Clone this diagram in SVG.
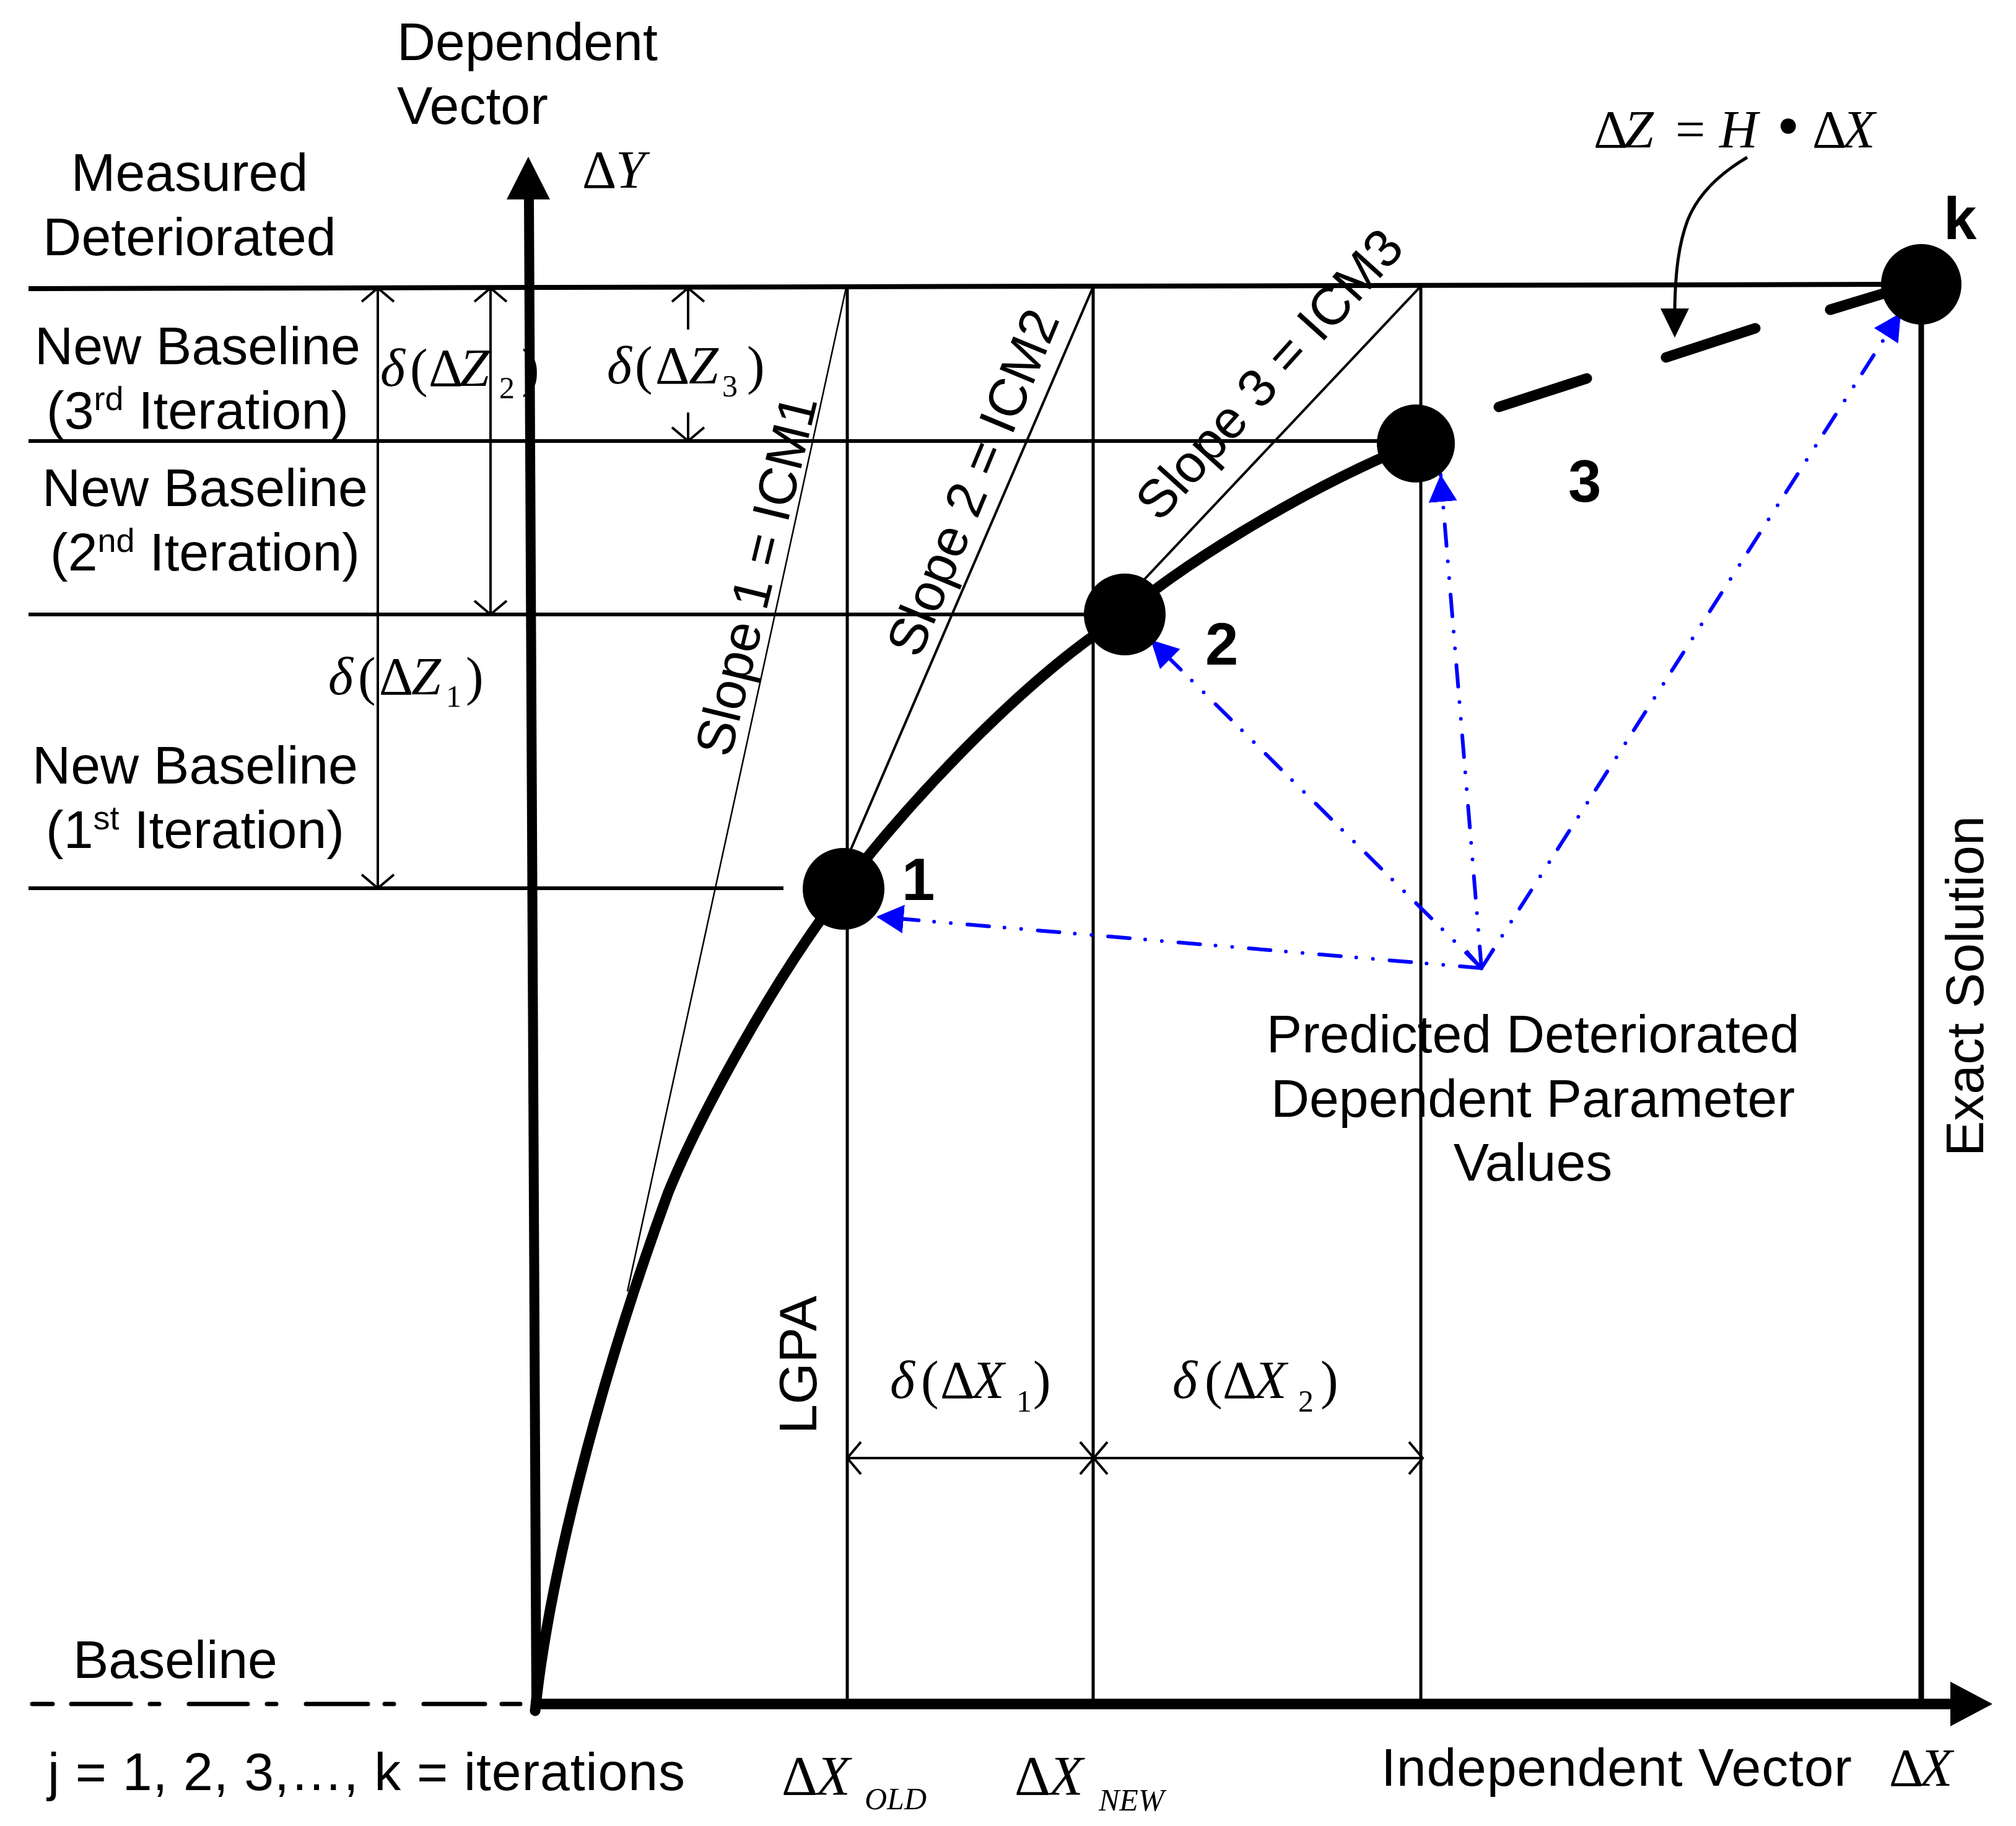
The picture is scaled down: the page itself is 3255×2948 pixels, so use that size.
<svg xmlns="http://www.w3.org/2000/svg" width="3255" height="2948" viewBox="0 0 3255 2948">
<defs>
<style>
.t{font-family:"Liberation Sans",Arial,sans-serif;font-size:86px;fill:#000}
.b{font-family:"Liberation Sans",Arial,sans-serif;font-size:96px;font-weight:bold;fill:#000}
.m{font-family:"Liberation Serif","Times New Roman",serif;font-size:86px;fill:#000}
.i{font-style:italic}
.s{font-size:50px}
.sup{font-size:54px}
.ln{stroke:#000;fill:none}
.blue{stroke:#0000ff;stroke-width:6;fill:none;stroke-dasharray:35 27 0 27 0 25;stroke-linecap:round}
.dim{stroke:#000;stroke-width:4;fill:none}
</style>
<marker id="bh" markerUnits="userSpaceOnUse" markerWidth="50" markerHeight="50" refX="44" refY="23" orient="auto"><path d="M0,0 L44,23 L0,46 Z" fill="#0000ff"/></marker>
<marker id="bo" markerUnits="userSpaceOnUse" markerWidth="40" markerHeight="50" refX="32" refY="24" orient="auto-start-reverse"><path d="M2,2 L32,24 L2,46" fill="none" stroke="#0000ff" stroke-width="5"/></marker>
</defs>
<rect width="3255" height="2948" fill="#fff"/>

<g id="grid">
<path class="ln" stroke-width="8" d="M46,466 L3102,459"/>
<path class="ln" stroke-width="6" d="M46,712 L2286,712"/>
<path class="ln" stroke-width="6" d="M46,992 L1816,992"/>
<path class="ln" stroke-width="6" d="M46,1434 L1265,1434"/>
<path class="ln" stroke-width="5" d="M1368,465 L1368,2751 M1765,463 L1765,2751 M2294,462 L2294,2751"/>
<path class="ln" stroke-width="9" d="M3102,459 L3102,2751"/>
<path class="ln" stroke-width="2.5" d="M1366,465 L1013,2085"/>
<path class="ln" stroke-width="4" d="M1765,463 L1370,1380 M2294,462 L1848,935"/>
</g>

<g id="baseline-dashes" stroke="#000" stroke-width="7" stroke-linecap="round">
<path d="M52,2751 H85 M115,2751 H211 M242,2751 H257 M305,2751 H400 M431,2751 H446 M494,2751 H594 M621,2751 H636 M684,2751 H783 M810,2751 H840"/>
</g>

<g id="axes">
<path class="ln" stroke-width="16" d="M866,2755 L854,318"/>
<path d="M818,322 L853,253 L888,322 Z" fill="#000"/>
<path class="ln" stroke-width="17" d="M866,2751 L3152,2751"/>
<path d="M3149,2715 L3217,2751 L3149,2787 Z" fill="#000"/>
</g>

<g id="dimensions">
<path class="dim" d="M610,465 V1434 M584,487 L610,465 L636,487 M584,1412 L610,1434 L636,1412"/>
<path class="dim" d="M792,465 V992 M766,487 L792,465 L818,487 M766,970 L792,992 L818,970"/>
<path class="dim" d="M1111,465 V532 M1085,487 L1111,465 L1137,487 M1111,666 V712 M1085,690 L1111,712 L1137,690"/>
<path class="dim" d="M1368,2354 H2297 M1390,2328 L1368,2354 L1390,2380 M1744,2328 L1766,2354 L1744,2380 M1788,2328 L1766,2354 L1788,2380 M2275,2328 L2297,2354 L2275,2380"/>
</g>

<g id="connectors">
<path id="curve" d="M864,2762 C885,2560 960,2250 1079,1925 C1130,1800 1250,1580 1362,1435 C1420,1350 1640,1100 1816,993 C1880,930 2100,790 2286,716" fill="none" stroke="#000" stroke-width="17" stroke-linecap="round" stroke-linejoin="round"/>
<path id="exact-dashes" d="M2420,657 L2562,611 M2690,577 L2834,530 M2955,500 L3060,468" fill="none" stroke="#000" stroke-width="17" stroke-linecap="round"/>
<path id="eq-arrow" d="M2821,254 C2770,284 2740,318 2725,355 C2710,395 2705,440 2704,500" fill="none" stroke="#000" stroke-width="5"/>
<path d="M2681,498 L2727,498 L2704,545 Z" fill="#000"/>
<path class="blue" d="M2392,1563 L1415,1480" marker-end="url(#bh)"/>
<path class="blue" d="M2392,1563 L1858,1033" marker-end="url(#bh)"/>
<path class="blue" d="M2392,1563 L2326,766" marker-start="url(#bo)" marker-end="url(#bh)"/>
<path class="blue" d="M2392,1563 L3069,505" marker-end="url(#bh)"/>
</g>

<g id="node-1"><circle cx="1362" cy="1435" r="66" fill="#000"/><text class="b" x="1456" y="1453">1</text></g>
<g id="node-2"><circle cx="1816" cy="992" r="66" fill="#000"/><text class="b" x="1946" y="1073">2</text></g>
<g id="node-3"><circle cx="2286" cy="716" r="63" fill="#000"/><text class="b" x="2532" y="810">3</text></g>
<g id="node-k"><circle cx="3102" cy="459" r="65" fill="#000"/><text class="b" x="3138" y="386">k</text></g>

<g id="labels">
<text class="t" x="641" y="97">Dependent</text>
<text class="t" x="641" y="200">Vector</text>
<text class="t" x="306" y="308" text-anchor="middle">Measured</text>
<text class="t" x="306" y="412" text-anchor="middle">Deteriorated</text>
<text class="t" x="319" y="588" text-anchor="middle">New Baseline</text>
<text class="t" x="319" y="692" text-anchor="middle">(3<tspan class="sup" dy="-30">rd</tspan><tspan dy="30"> Iteration)</tspan></text>
<text class="t" x="331" y="817" text-anchor="middle">New Baseline</text>
<text class="t" x="331" y="921" text-anchor="middle">(2<tspan class="sup" dy="-30">nd</tspan><tspan dy="30"> Iteration)</tspan></text>
<text class="t" x="315" y="1265" text-anchor="middle">New Baseline</text>
<text class="t" x="315" y="1369" text-anchor="middle">(1<tspan class="sup" dy="-30">st</tspan><tspan dy="30"> Iteration)</tspan></text>
<text class="t" x="118" y="2709">Baseline</text>
<text class="t" x="77" y="2890" textLength="1029">j = 1, 2, 3,…, k = iterations</text>
<text class="t" x="2230" y="2883" textLength="760">Independent Vector</text>
<text class="t" x="2475" y="1699" text-anchor="middle">Predicted Deteriorated</text>
<text class="t" x="2475" y="1803" text-anchor="middle">Dependent Parameter</text>
<text class="t" x="2475" y="1906" text-anchor="middle">Values</text>
<text class="t" transform="translate(3202,1867) rotate(-90)">Exact Solution</text>
<text class="t" transform="translate(1318,2315) rotate(-90)">LGPA</text>
<text class="t" transform="translate(1179,1225) rotate(-76.3)">Slope 1 = ICM1</text>
<text class="t" transform="translate(1484,1065) rotate(-67.5)">Slope 2 = ICM2</text>
<text class="t" transform="translate(1872,845) rotate(-48)">Slope 3 = ICM3</text>

<text class="m" y="303"><tspan x="940">Δ</tspan><tspan x="994" class="i">Y</tspan></text>
<text class="m" y="1121"><tspan x="530" class="i">δ</tspan><tspan x="578">(</tspan><tspan x="612">Δ</tspan><tspan x="664" class="i">Z</tspan><tspan x="720" y="1141" class="s">1</tspan><tspan x="752" y="1121">)</tspan></text>
<text class="m" y="623"><tspan x="614" class="i">δ</tspan><tspan x="662">(</tspan><tspan x="692">Δ</tspan><tspan x="742" class="i">Z</tspan><tspan x="806" y="643" class="s">2</tspan><tspan x="842" y="623">)</tspan></text>
<text class="m" y="619"><tspan x="980" class="i">δ</tspan><tspan x="1025">(</tspan><tspan x="1058">Δ</tspan><tspan x="1112" class="i">Z</tspan><tspan x="1166" y="640" class="s">3</tspan><tspan x="1206" y="619">)</tspan></text>
<text class="m" y="2257"><tspan x="1437" class="i">δ</tspan><tspan x="1487">(</tspan><tspan x="1518">Δ</tspan><tspan x="1569" class="i">X</tspan><tspan x="1641" y="2279" class="s">1</tspan><tspan x="1668" y="2257">)</tspan></text>
<text class="m" y="2257"><tspan x="1893" class="i">δ</tspan><tspan x="1945">(</tspan><tspan x="1974">Δ</tspan><tspan x="2025" class="i">X</tspan><tspan x="2096" y="2279" class="s">2</tspan><tspan x="2132" y="2257">)</tspan></text>
<text class="m" y="2898"><tspan x="1262" style="font-size:90px">Δ</tspan><tspan x="1318" class="i" style="font-size:90px">X</tspan><tspan x="1396" y="2921" class="s i">OLD</tspan></text>
<text class="m" y="2898"><tspan x="1638" style="font-size:90px">Δ</tspan><tspan x="1694" class="i" style="font-size:90px">X</tspan><tspan x="1774" y="2923" class="s i">NEW</tspan></text>
<text class="m" y="2883"><tspan x="3050">Δ</tspan><tspan x="3100" class="i">X</tspan></text>
<text class="m" y="238"><tspan x="2573">Δ</tspan><tspan x="2622" class="i">Z</tspan><tspan x="2705">=</tspan><tspan x="2776" class="i">H</tspan><tspan x="2869" style="font-size:104px">•</tspan><tspan x="2926">Δ</tspan><tspan x="2975" class="i">X</tspan></text>
</g>
</svg>
